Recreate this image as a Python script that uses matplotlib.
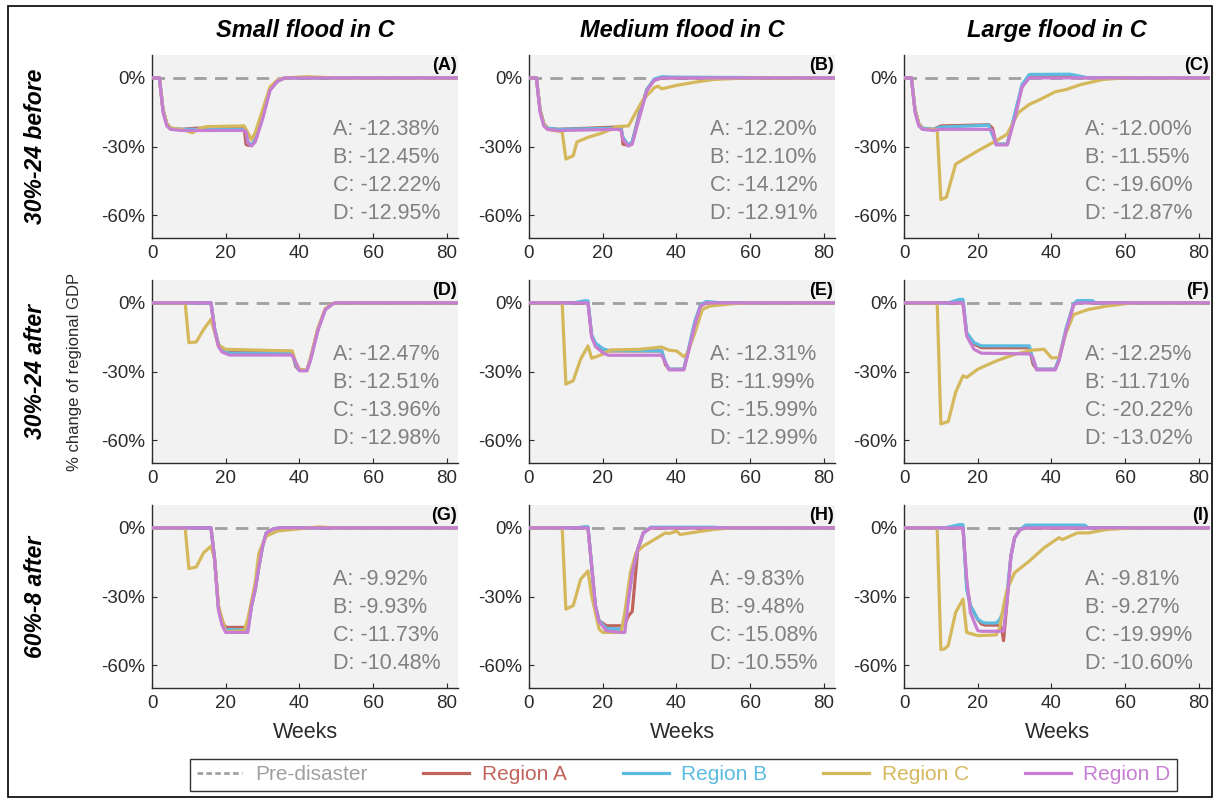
import matplotlib
matplotlib.use("Agg")
import matplotlib.pyplot as plt
from matplotlib.lines import Line2D
from matplotlib.patches import Rectangle

plt.rcParams['font.family'] = ['Liberation Sans', 'DejaVu Sans']

col_titles = ["Small flood in C", "Medium flood in C", "Large flood in C"]
row_titles = ["30%-24 before", "30%-24 after", "60%-8 after"]
panel_tags = ["(A)", "(B)", "(C)", "(D)", "(E)", "(F)", "(G)", "(H)", "(I)"]
region_names = ["Region A", "Region B", "Region C", "Region D"]
region_colors = ["#c1645c", "#5bbbe0", "#d5b85c", "#c67ed2"]
base_color = "#a0a0a0"

# panel A: small flood, 30%-24 before
a_wk = [0, 2, 3, 4, 5, 8, 12, 25, 25.5, 26, 27, 28, 30, 32, 34, 36, 83]
a_A = [0, 0, -14, -20, -22, -22.5, -22, -22, -29, -29.5, -29.5, -27, -17, -5, -1.5, 0, 0]
a_B = [0, 0, -14, -20, -22, -22.5, -22.5, -22.5, -23, -28, -29.5, -27, -17, -5, -1.5, 0, 0]
a_D = [0, 0, -15, -21, -22.5, -23, -23, -23, -23.5, -28.5, -29.8, -28, -18, -5.5, -1.5, 0, 0]
a_wkC = [0, 2, 3, 4, 5, 8, 11, 13, 15, 25, 27, 28, 30, 32, 34, 36, 42, 50, 83]
a_C = [0, 0, -14, -20, -22, -22.5, -24, -22, -21.3, -21, -27, -24, -14, -4, -1, 0, 0.5, 0, 0]

# panel B: medium flood, 30%-24 before
b_wk = [0, 2, 3, 4, 5, 8, 24, 25, 25.5, 27, 28, 30, 32, 34, 36, 40, 83]
b_A = [0, 0, -14, -20, -22, -22.5, -21.5, -21.5, -29, -29.5, -28, -15, -5, -1, 0, 0, 0]
b_B = [0, 0, -14, -20, -22, -22.5, -22, -22.5, -26, -29.5, -28, -16, -5, -0.5, 0.5, 0.3, 0]
b_D = [0, 0, -15, -21, -22.5, -23, -22.5, -23, -27, -29.8, -29, -17, -5.5, -1, 0, 0, 0]
b_wkC = [0, 2, 3, 4, 5, 9, 10, 12, 13, 16, 20, 24, 27, 29, 31, 34, 35, 36, 40, 45, 50, 60, 83]
b_C = [0, 0, -14, -20, -22.5, -23.6, -35.5, -34, -28, -26, -24, -21.3, -21, -15, -9.4, -4.3, -3.6, -4.8, -3.3, -1.9, -0.7, 0, 0]

# panel C: large flood, 30%-24 before
c_wk = [0, 2, 3, 4, 5, 8, 10, 23, 24, 25, 28, 30, 32, 34, 45, 50, 83]
c_A = [0, 0, -14, -20, -22, -22.5, -21, -20.5, -22, -29, -29, -17, -4, 0.5, 0.5, 0, 0]
c_B = [0, 0, -14, -20, -22, -22.5, -21.5, -20.7, -25, -29, -29, -16, -3, 1.5, 1.6, 0, 0]
c_D = [0, 0, -15, -21, -22.5, -23, -22.5, -22.5, -23, -29.3, -29.3, -18, -4, 0, 0, 0, 0]
c_wkC = [0, 2, 3, 4, 5, 9, 10, 11.5, 14, 20, 25, 28, 31, 34, 37, 41, 44, 48, 54, 60, 83]
c_C = [0, 0, -14, -20, -22.5, -22.5, -53.2, -52.2, -37.7, -31.9, -27.5, -24.6, -15.2, -11.6, -9.4, -6.1, -5.1, -2.9, -0.7, 0, 0]

# panel D: small flood, 30%-24 after
d_wk = [0, 16, 17, 18, 19, 21, 38, 39, 40, 42, 43, 45, 47, 49, 50, 83]
d_A = [0, 0, -11.5, -18, -20.3, -21.5, -21.5, -27.8, -29.5, -29.5, -24.6, -11.6, -2.9, -0.4, 0, 0]
d_B = [0, 0, -11.5, -18, -20.5, -22, -22, -27, -29.5, -29.5, -24.6, -11.6, -2.9, -0.4, 0, 0]
d_D = [0, 0, -12, -19, -21.5, -22.8, -22.8, -26, -29.7, -29.7, -25, -12, -3, -0.4, 0, 0]
d_wkC = [0, 9, 10, 12, 14, 16, 17, 18, 20, 38, 39, 40, 42, 43, 45, 47, 49, 50, 83]
d_C = [0, 0, -17.4, -17.1, -11.6, -7.2, -13, -18.5, -20.3, -21, -26, -29, -29.5, -24, -11, -2.5, -0.3, 0, 0]

# panel E: medium flood, 30%-24 after
e_wk = [0, 12, 15, 16, 17, 18, 20, 21.5, 36, 37, 38, 42, 43, 45, 46.5, 48, 52, 83]
e_A = [0, 0, 0, 0, -14.5, -18, -20.3, -21, -21, -27, -29, -29, -22.5, -8.7, -1.4, 0, 0, 0]
e_B = [0, 0, 0.9, 0.9, -14, -17.5, -20, -20.8, -21, -26, -29, -29, -22, -8, -1, 0.6, 0, 0]
e_D = [0, 0, 0, 0, -15, -19, -21.8, -22.9, -22.9, -26, -29.3, -29.3, -23, -9.5, -1.5, 0, 0, 0]
e_wkC = [0, 9, 10, 12, 14, 16, 17, 20, 22, 30, 36, 38, 40, 42, 43, 45, 47, 49, 55, 60, 83]
e_C = [0, 0, -35.5, -34, -24.6, -18.8, -24.2, -22.5, -20.6, -20.3, -19.3, -20.7, -21, -23.5, -22, -13, -2.9, -1.4, -0.4, 0, 0]

# panel F: large flood, 30%-24 after
f_wk = [0, 12, 15, 16, 17, 19, 21, 34, 35, 36, 41, 42, 44, 46, 47, 51, 52, 83]
f_A = [0, 0, 0, 0, -13.5, -18, -19.6, -19.6, -26.8, -29, -29, -25, -11.6, -0.7, 0.3, 0, 0, 0]
f_B = [0, 0, 1.5, 1.5, -13, -17.4, -18.8, -18.8, -25, -29, -29, -24.6, -11, -0.5, 1, 1, 0, 0]
f_D = [0, 0, 0, 0, -14.5, -20.3, -22, -22.3, -24, -29.3, -29.3, -25.5, -12, -1, 0, 0, 0, 0]
f_wkC = [0, 9, 10, 12, 14, 16, 17, 20, 25, 30, 35, 38, 40, 42, 44, 46, 50, 55, 62, 83]
f_C = [0, 0, -52.9, -51.9, -39.1, -31.9, -32.6, -29, -25.4, -22.5, -20.6, -20.3, -24, -24, -13, -5.1, -2.9, -1.4, 0, 0]

# panel G: small flood, 60%-8 after
g_wk = [0, 16, 17, 18, 19, 20, 26, 27, 28, 29, 30, 31, 33, 35, 83]
g_A = [0, 0, -13.8, -34, -41, -43.5, -43.5, -34, -27, -17, -8, -2.2, -0.4, 0, 0]
g_B = [0, 0, -13.8, -35, -42, -44.5, -44.5, -34, -26.8, -16.7, -8, -2.2, -0.4, 0, 0]
g_D = [0, 0, -14, -35.5, -42.5, -45.7, -45.7, -34, -26.8, -16.7, -8, -2.2, -0.4, 0, 0]
g_wkC = [0, 9, 10, 12, 14, 16, 17, 18, 20, 25, 26, 28, 29, 31, 34, 40, 45, 50, 83]
g_C = [0, 0, -17.8, -17.1, -10.9, -8, -13.8, -34, -45.4, -44.9, -39.9, -23.9, -10.9, -3.6, -1.4, -0.4, 0.4, 0, 0]

# panel H: medium flood, 60%-8 after
h_wk = [0, 13, 15, 16, 17, 18, 19, 21, 25, 26, 27, 28, 29.5, 31, 33, 35, 50, 52, 83]
h_A = [0, 0, 0, 0, -16.7, -34, -40.6, -42.8, -42.8, -42, -38.4, -36.5, -9.4, -2.2, 0, 0, 0, 0, 0]
h_B = [0, 0, 0.5, 0.5, -16.7, -34, -40.6, -43.9, -44.3, -40, -31, -19.6, -9.4, -2.2, 0.3, 0.3, 0.3, 0, 0]
h_D = [0, 0, 0, 0, -16.7, -34, -41, -45, -45.7, -45.7, -31, -19.6, -9.4, -2.2, 0, 0, 0, 0, 0]
h_wkC = [0, 9, 10, 12, 14, 16, 17, 19, 20, 25, 26, 27.5, 29, 31, 34, 37, 38, 40, 41, 45, 50, 55, 83]
h_C = [0, 0, -35.5, -34, -22.5, -18.8, -29.7, -44.2, -45.7, -45.7, -37, -19.6, -10.9, -8, -5.1, -2.2, -2.5, -1.4, -2.9, -1.9, -0.7, 0, 0]

# panel I: large flood, 60%-8 after
i_wk = [0, 11, 15, 16, 17, 18, 20, 21, 22, 25, 26, 26.5, 27, 28, 29, 30, 31.5, 33, 49, 50, 83]
i_A = [0, 0, 0, 0, -25, -34, -40, -42, -42.5, -42.5, -42.5, -44, -49.3, -31.2, -12.3, -4.3, -0.7, 0, 0, 0, 0]
i_B = [0, 0, 1.4, 1.4, -26.8, -34, -39.9, -41, -41.6, -41.6, -40, -38, -36, -28, -12.3, -4.3, -0.7, 1.2, 1.2, 0, 0]
i_D = [0, 0, 0, 0, -22, -37, -44.9, -45.2, -45.2, -45.2, -45.2, -45.2, -45.2, -31.2, -12.3, -4.3, -0.7, 0, 0, 0, 0]
i_wkC = [0, 9, 10, 11, 12, 14, 16, 17, 20, 25, 26, 27, 28, 30, 34, 38, 42, 43, 47, 50, 55, 62, 83]
i_C = [0, 0, -53.2, -52.9, -51.4, -37, -31.2, -45.7, -47.1, -46.8, -43.5, -34, -26.8, -19.6, -14.5, -8.7, -4.3, -5.1, -2.2, -2.2, -0.7, 0, 0]

# average loss per region, panels A..I
loss_A = [-12.38, -12.20, -12.00, -12.47, -12.31, -12.25, -9.92, -9.83, -9.81]
loss_B = [-12.45, -12.10, -11.55, -12.51, -11.99, -11.71, -9.93, -9.48, -9.27]
loss_C = [-12.22, -14.12, -19.60, -13.96, -15.99, -20.22, -11.73, -15.08, -19.99]
loss_D = [-12.95, -12.91, -12.87, -12.98, -12.99, -13.02, -10.48, -10.55, -10.60]

panels = [
    (a_wk, a_A, a_B, a_D, a_wkC, a_C),
    (b_wk, b_A, b_B, b_D, b_wkC, b_C),
    (c_wk, c_A, c_B, c_D, c_wkC, c_C),
    (d_wk, d_A, d_B, d_D, d_wkC, d_C),
    (e_wk, e_A, e_B, e_D, e_wkC, e_C),
    (f_wk, f_A, f_B, f_D, f_wkC, f_C),
    (g_wk, g_A, g_B, g_D, g_wkC, g_C),
    (h_wk, h_A, h_B, h_D, h_wkC, h_C),
    (i_wk, i_A, i_B, i_D, i_wkC, i_C),
]

W, H = 1218, 800
fig = plt.figure(figsize=(W / 100, H / 100), dpi=100)

col_left = [152, 529, 904]
col_w = 306
row_top = [55, 280, 505]
row_h = 183
ink = "#2b2b2b"

for k, (wk, yA, yB, yD, wkC, yC) in enumerate(panels):
    r, c = divmod(k, 3)
    ax = fig.add_axes([col_left[c] / W, 1 - (row_top[r] + row_h) / H, col_w / W, row_h / H])
    ax.set_facecolor("#f2f2f2")
    ax.plot([0, 83], [0, 0], ls=(0, (4.5, 3)), color=base_color, lw=2, zorder=1)
    ax.plot(wk, yA, color=region_colors[0], lw=2.3, zorder=2)
    ax.plot(wk, yB, color=region_colors[1], lw=2.3, zorder=3)
    ax.plot(wkC, yC, color=region_colors[2], lw=2.3, zorder=4)
    ax.plot(wk, yD, color=region_colors[3], lw=2.3, zorder=5)
    ax.set_xlim(0, 83)
    ax.set_ylim(-70, 10)
    ax.set_xticks([0, 20, 40, 60, 80])
    ax.set_yticks([0, -30, -60])
    ax.set_yticklabels(["0%", "-30%", "-60%"])
    for s in ["top", "right"]:
        ax.spines[s].set_visible(False)
    for s in ["left", "bottom"]:
        ax.spines[s].set_color(ink)
        ax.spines[s].set_linewidth(1.0)
    ax.tick_params(direction="in", length=3.5, width=0.8, colors=ink, labelsize=13.5, pad=5)
    ax.text(0.995, 0.94, panel_tags[k], transform=ax.transAxes, ha="right", va="center",
            fontsize=13, fontweight="bold", color="black")
    vals = [loss_A[k], loss_B[k], loss_C[k], loss_D[k]]
    for j, (lab, v) in enumerate(zip("ABCD", vals)):
        ax.text(49, -22.5 - 12.2 * j, f"{lab}: {v:.2f}%", ha="left", va="center",
                fontsize=15.5, color="#808080")
    if r == 2:
        ax.set_xlabel("Weeks", fontsize=15.5, color=ink, labelpad=7)
    if r == 0:
        ax.set_title(col_titles[c], fontsize=17, fontweight="bold", style="italic",
                     color="black", pad=13)

for r, t in enumerate(row_titles):
    yc = 1 - (row_top[r] + row_h / 2) / H
    fig.text(36 / W, yc, t, rotation=90, ha="center", va="center", fontsize=16.5,
             fontweight="bold", style="italic")

fig.text(74 / W, 1 - 372 / H, "% change of regional GDP", rotation=90, ha="center",
         va="center", fontsize=12, color=ink)

handles = [Line2D([], [], ls=(0, (2, 1.2)), color=base_color, lw=2)]
handles += [Line2D([], [], color=col, lw=2.3) for col in region_colors]
labels = ["Pre-disaster"] + region_names
leg = fig.legend(handles, labels, loc="center", ncol=5, mode="expand",
                 bbox_to_anchor=(180 / W, 1 - 793 / H, 1007 / W, 36 / H),
                 fontsize=15, frameon=True, fancybox=False, handlelength=2.2,
                 handletextpad=0.6, borderpad=0.3)
leg.get_frame().set_edgecolor("black")
leg.get_frame().set_linewidth(1.0)
for txt, col in zip(leg.get_texts(), [base_color] + region_colors):
    txt.set_color(col)

fig.add_artist(Rectangle((8 / W, 3 / H), 1204 / W, 791 / H, transform=fig.transFigure,
                         fill=False, edgecolor="black", lw=1.2))

fig.savefig("out.png", dpi=100)
